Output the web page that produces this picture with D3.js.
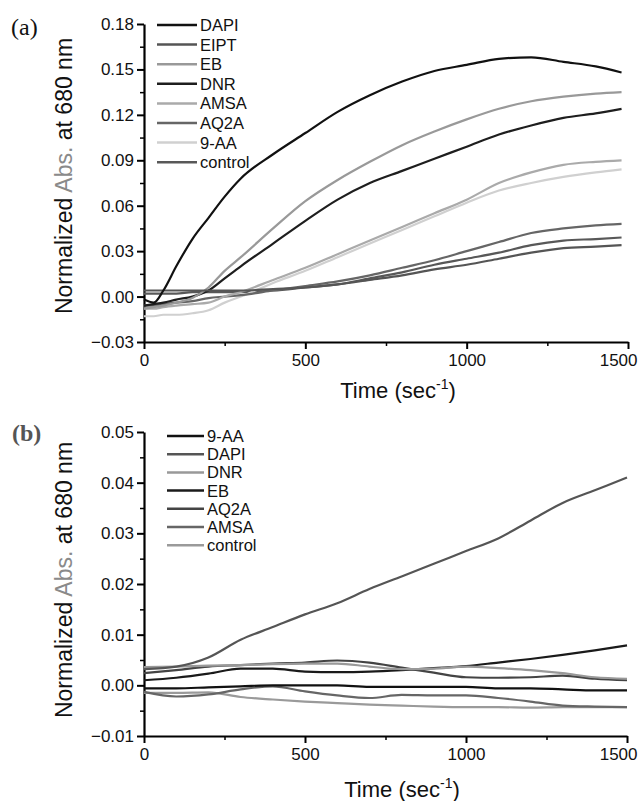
<!DOCTYPE html>
<html>
<head>
<meta charset="utf-8">
<script src="https://cdn.jsdelivr.net/npm/d3@7"></script>
<style>
body{margin:0;background:#fff;}
svg{display:block;font-family:"Liberation Sans",Arial,Helvetica,sans-serif;}
</style>
</head>
<body>
<svg id="chart" width="639" height="801"></svg>
<script>
// ---------- Panel (a) data ----------
const timeA = [0,30,60,100,150,200,250,300,400,500,600,700,800,900,1000,1100,1200,1300,1400,1480];
const seriesNamesA = ["DAPI","EIPT","EB","DNR","AMSA","AQ2A","9-AA","control"];
const colorsA = ["#111111","#555555","#999999","#1e1e1e","#aaaaaa","#666666","#d0d0d0","#585858"];
const dapiA   = [-0.002,-0.004,0.004,0.020,0.038,0.052,0.066,0.078,0.094,0.108,0.122,0.133,0.142,0.149,0.153,0.157,0.158,0.155,0.152,0.148];
const eiptA   = [0.004,0.004,0.004,0.004,0.004,0.004,0.004,0.004,0.005,0.006,0.008,0.011,0.014,0.018,0.021,0.025,0.029,0.032,0.033,0.034];
const ebA     = [-0.008,-0.007,-0.006,-0.004,-0.001,0.006,0.017,0.026,0.045,0.063,0.077,0.089,0.100,0.109,0.117,0.124,0.129,0.132,0.134,0.135];
const dnrA    = [-0.006,-0.005,-0.004,-0.002,0.000,0.004,0.012,0.020,0.035,0.050,0.064,0.075,0.083,0.091,0.099,0.107,0.113,0.118,0.121,0.124];
const amsaA   = [-0.008,-0.008,-0.007,-0.006,-0.005,-0.004,0.000,0.003,0.011,0.019,0.028,0.037,0.046,0.055,0.064,0.075,0.082,0.087,0.089,0.090];
const aq2aA   = [-0.006,-0.006,-0.005,-0.004,-0.003,-0.001,0.000,0.001,0.004,0.007,0.010,0.014,0.019,0.024,0.030,0.036,0.042,0.045,0.047,0.048];
const aa9A    = [-0.013,-0.013,-0.012,-0.012,-0.011,-0.009,-0.004,0.000,0.009,0.017,0.026,0.035,0.044,0.053,0.062,0.070,0.075,0.079,0.082,0.084];
const controlA= [0.002,0.002,0.002,0.002,0.003,0.003,0.003,0.003,0.004,0.006,0.008,0.012,0.016,0.021,0.025,0.029,0.034,0.037,0.038,0.039];
const valuesA = [dapiA,eiptA,ebA,dnrA,amsaA,aq2aA,aa9A,controlA];
const yTicksA = [-0.03,0.00,0.03,0.06,0.09,0.12,0.15,0.18];
const xTicks = [0,500,1000,1500];

// ---------- Panel (b) data ----------
const timeB = [0,100,200,300,400,500,600,700,800,900,1000,1100,1200,1300,1400,1500];
const seriesNamesB = ["9-AA","DAPI","DNR","EB","AQ2A","AMSA","control"];
const colorsB = ["#111111","#555555","#999999","#1a1a1a","#444444","#666666","#9a9a9a"];
const aa9B    = [-0.0006,-0.0006,-0.0004,-0.0002,0.0,0.0,0.0,-0.0003,-0.0003,-0.0003,-0.0003,-0.0006,-0.0006,-0.0008,-0.001,-0.001];
const dapiB   = [0.0032,0.0037,0.0055,0.009,0.0115,0.014,0.0162,0.019,0.0215,0.024,0.0265,0.029,0.0325,0.036,0.0385,0.041];
const dnrB    = [0.0036,0.0037,0.0039,0.004,0.0042,0.0043,0.0043,0.0037,0.0032,0.0033,0.0037,0.0034,0.003,0.0024,0.0016,0.0013];
const ebB     = [0.001,0.0015,0.0023,0.0033,0.0033,0.0027,0.0026,0.0027,0.003,0.0034,0.0038,0.0045,0.0052,0.006,0.0069,0.0079];
const aq2aB   = [0.0024,0.003,0.0037,0.004,0.0043,0.0045,0.0049,0.0045,0.0035,0.0025,0.0016,0.0015,0.0016,0.0019,0.0013,0.001];
const amsaB   = [-0.0013,-0.0022,-0.0018,-0.0008,-0.0002,-0.0012,-0.002,-0.0025,-0.0019,-0.002,-0.002,-0.0025,-0.0032,-0.004,-0.0042,-0.0043];
const controlB= [-0.0015,-0.0015,-0.0014,-0.0023,-0.0028,-0.0032,-0.0035,-0.0038,-0.004,-0.0042,-0.0043,-0.0043,-0.0044,-0.0043,-0.0043,-0.0043];
const valuesB = [aa9B,dapiB,dnrB,ebB,aq2aB,amsaB,controlB];
const yTicksB = [-0.01,0.00,0.01,0.02,0.03,0.04,0.05];

const svg = d3.select("#chart");

function panel(cfg){
  const g = svg.append("g");
  const x = d3.scaleLinear().domain([0,1500]).range([cfg.x0,cfg.x1]);
  const y = d3.scaleLinear().domain(cfg.yDomain).range([cfg.yBottom,cfg.yTop]);

  // minor ticks
  const step = cfg.yTicks[1]-cfg.yTicks[0];
  const minorY = cfg.yTicks.slice(0,-1).map(v=>v+step/2);
  g.append("g").attr("transform",`translate(${cfg.x0},0)`)
    .call(d3.axisLeft(y).tickValues(minorY).tickSize(4).tickFormat(""))
    .call(a=>a.select(".domain").remove())
    .selectAll("line").attr("stroke","#000").attr("stroke-width",1.5);
  g.append("g").attr("transform",`translate(0,${cfg.yBottom})`)
    .call(d3.axisBottom(x).tickValues([250,750,1250]).tickSize(4).tickFormat(""))
    .call(a=>a.select(".domain").remove())
    .selectAll("line").attr("stroke","#000").attr("stroke-width",1.5);

  // major axes
  const ya = g.append("g").attr("transform",`translate(${cfg.x0},0)`)
    .call(d3.axisLeft(y).tickValues(cfg.yTicks).tickSize(7).tickSizeOuter(0).tickPadding(3).tickFormat(d3.format(".2f")));
  const xa = g.append("g").attr("transform",`translate(0,${cfg.yBottom})`)
    .call(d3.axisBottom(x).tickValues(xTicks).tickSize(7).tickSizeOuter(0).tickPadding(5).tickFormat(d3.format("d")));
  [ya,xa].forEach(a=>{
    a.select(".domain").attr("stroke","#000").attr("stroke-width",2.2);
    a.selectAll(".tick line").attr("stroke","#000").attr("stroke-width",2);
    a.selectAll(".tick text").attr("font-size",17).attr("fill","#111")
      .attr("font-family",'"Liberation Sans",Arial,sans-serif');
  });
  // keep the last x label inside the page
  xa.selectAll(".tick text").filter(d=>d===1500)
    .attr("text-anchor","end").attr("dx", 637-cfg.x1);

  // lines
  const line = d3.line().x((d,i)=>x(cfg.time[i])).y(d=>y(d)).curve(d3.curveMonotoneX);
  const order = d3.range(cfg.values.length).reverse();
  g.append("g").selectAll("path").data(order).join("path")
    .attr("d",i=>line(cfg.values[i]))
    .attr("fill","none").attr("stroke",i=>cfg.colors[i])
    .attr("stroke-width",2.2).attr("stroke-linejoin","round");

  // legend
  const lg = g.append("g");
  cfg.names.forEach((n,i)=>{
    const yy = cfg.legY + i*cfg.legStep;
    lg.append("line").attr("x1",cfg.legX).attr("x2",cfg.legX+cfg.legW)
      .attr("y1",yy).attr("y2",yy).attr("stroke",cfg.colors[i]).attr("stroke-width",2.5);
    lg.append("text").attr("x",cfg.legX+cfg.legW+3).attr("y",yy+6)
      .attr("font-size",16.5).attr("fill","#111").text(n);
  });

  // y label
  const yl = g.append("text")
    .attr("transform",`translate(${cfg.yLabX},${cfg.yLabY}) rotate(-90)`)
    .attr("text-anchor","middle").attr("font-size",23).attr("fill","#111");
  yl.append("tspan").text("Normalized ");
  yl.append("tspan").attr("fill","#8a8a8a").text("Abs.");
  yl.append("tspan").text(" at 680 nm");

  // x label
  const xl = g.append("text").attr("x",cfg.xLabX).attr("y",cfg.xLabY)
    .attr("text-anchor","middle").attr("font-size",22).attr("fill","#111");
  xl.append("tspan").text("Time (sec");
  xl.append("tspan").attr("font-size",14).attr("dy",-9).text("-1");
  xl.append("tspan").attr("dy",9).text(")");

  // panel label
  g.append("text").attr("x",cfg.pX).attr("y",cfg.pY)
    .attr("font-family",'"Liberation Serif","Times New Roman",serif')
    .attr("font-size",24).attr("fill",cfg.pFill).attr("font-weight",cfg.pWeight).text(cfg.pLabel);
}

panel({x0:144,x1:628,yTop:24,yBottom:342,yDomain:[-0.03,0.18],yTicks:yTicksA,
  time:timeA,values:valuesA,names:seriesNamesA,colors:colorsA,
  legX:157,legW:40,legY:25,legStep:19.6,
  yLabX:72,yLabY:176,xLabX:398,xLabY:398,
  pX:11,pY:35,pLabel:"(a)",pFill:"#111",pWeight:"normal"});

panel({x0:144,x1:627,yTop:432,yBottom:736,yDomain:[-0.01,0.05],yTicks:yTicksB,
  time:timeB,values:valuesB,names:seriesNamesB,colors:colorsB,
  legX:167,legW:37,legY:436,legStep:18.2,
  yLabX:72,yLabY:580,xLabX:402,xLabY:797,
  pX:12,pY:441,pLabel:"(b)",pFill:"#555",pWeight:"bold"});
</script>
</body>
</html>
